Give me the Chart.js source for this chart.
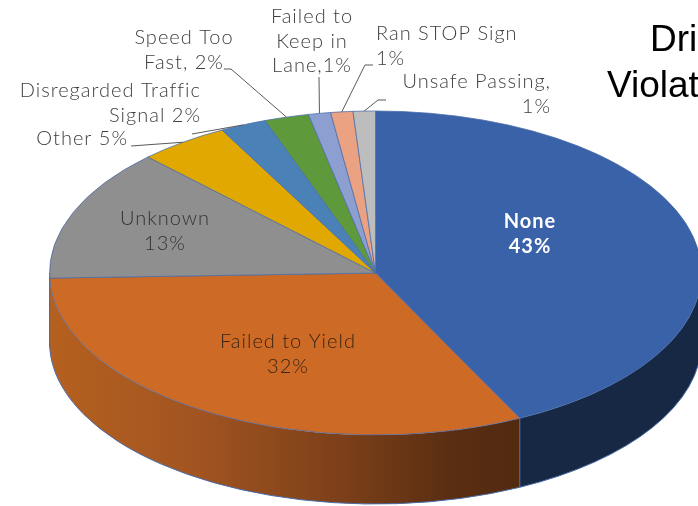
<!DOCTYPE html>
<html>
<head>
<meta charset="utf-8">
<style>html,body{margin:0;padding:0;background:#fff;overflow:hidden}canvas{display:block}</style>
<script src="https://cdn.jsdelivr.net/npm/chart.js@4/dist/chart.umd.min.js"></script>
</head>
<body>
<canvas id="c" width="698" height="506"></canvas>
<script>
const categories = ["None","Failed to Yield","Unknown","Other","Disregarded Traffic Signal","Speed Too Fast","Failed to Keep in Lane","Ran STOP Sign","Unsafe Passing"];
const sliceValues = [42.7,31.8,13.2,4.5,2.3,2.2,1.1,1.1,1.1];
const sliceColors = ["#3A62A8","#CD6A26","#8F8F8F","#E0A800","#4A82B8","#5E9A3C","#8C9FD0","#EAA283","#BDBDBD"];
const titleLines = ["Dri","Violat"];
const labelTexts = [
  ["None","43%"],["Failed to Yield","32%"],["Unknown","13%"],["Other 5%"],
  ["Disregarded Traffic","Signal 2%"],["Speed Too","Fast, 2%"],["Failed to","Keep in","Lane,1%"],
  ["Ran STOP Sign","1%"],["Unsafe Passing,","1%"]
];
// placement of each label: x, y of first line centre, alignment, leader elbow
const labelPlace = [
  {x:530,y:222,a:"center",bold:true,color:"#fff"},
  {x:288,y:342,a:"center",color:"#3a2412"},
  {x:165,y:219,a:"center",color:"#333"},
  {x:128,y:139,a:"right",lead:[[131,146]]},
  {x:201,y:91,a:"right",lead:[[192,134]]},
  {x:184,y:38,a:"center",lead:[[224,69],[231,69]]},
  {x:312,y:17,a:"center",lead:[[319,77]]},
  {x:376,y:34,a:"left",lead:[[373,65],[365,65]]},
  {x:551,y:82,a:"right",lead:[[386,100],[378,100]]}
];
const FLAT = 0.497, DEPTH = 69, LH = 24.2;
const FONT = '"Lato"';

const pie3d = {
  id:"pie3d",
  beforeDatasetsDraw(chart){
    const ctx = chart.ctx, arcs = chart.getDatasetMeta(0).data;
    const cx = arcs[0].x, cy = arcs[0].y, R = arcs[0].outerRadius, Ry = R*FLAT;
    const wallFill = i => {
      if (i === 0) return "#172844";
      if (i !== 1) return "#6a6a6a";
      const g = ctx.createLinearGradient(cx-R,0,520,0);
      g.addColorStop(0,"#B5601F"); g.addColorStop(0.3,"#A35521");
      g.addColorStop(0.6,"#7F411A"); g.addColorStop(0.85,"#5A2E12"); g.addColorStop(1,"#522A10");
      return g;
    };
    arcs.forEach((arc,i)=>{
      let a = arc.startAngle, b = arc.endAngle;
      a = Math.max(a,0); b = Math.min(b,Math.PI);
      if (b <= a) return;
      ctx.beginPath();
      ctx.ellipse(cx,cy,R,Ry,0,a,b,false);
      ctx.ellipse(cx,cy+DEPTH,R,Ry,0,b,a,true);
      ctx.closePath();
      ctx.fillStyle = wallFill(i);
      ctx.fill();
      ctx.strokeStyle = "#4A6CA8"; ctx.lineWidth = 1;
      ctx.beginPath();
      ctx.ellipse(cx,cy+DEPTH,R,Ry,0,a,b,false);
      ctx.stroke();
      ctx.beginPath();
      ctx.moveTo(cx+R*Math.cos(a),cy+Ry*Math.sin(a));
      ctx.lineTo(cx+R*Math.cos(a),cy+DEPTH+Ry*Math.sin(a));
      ctx.stroke();
    });
    ctx.beginPath();
    ctx.moveTo(cx-R,cy);
    ctx.lineTo(cx-R,cy+DEPTH);
    ctx.strokeStyle = "#4A6CA8"; ctx.stroke();
    ctx.save();
    ctx.translate(0,cy); ctx.scale(1,FLAT); ctx.translate(0,-cy);
  },
  afterDatasetsDraw(chart){ chart.ctx.restore(); },
  afterDraw(chart){
    const ctx = chart.ctx, arcs = chart.getDatasetMeta(0).data;
    const cx = arcs[0].x, cy = arcs[0].y, R = arcs[0].outerRadius, Ry = R*FLAT;
    ctx.save();
    ctx.textBaseline = "middle";
    labelPlace.forEach((p,i)=>{
      if (p.lead){
        const m = (arcs[i].startAngle+arcs[i].endAngle)/2;
        ctx.beginPath();
        p.lead.forEach((q,k)=> k ? ctx.lineTo(q[0],q[1]) : ctx.moveTo(q[0],q[1]));
        ctx.lineTo(cx+R*Math.cos(m),cy+Ry*Math.sin(m));
        ctx.strokeStyle = "#595959"; ctx.lineWidth = 1; ctx.stroke();
      }
      ctx.font = (p.bold?"bold ":"300 ")+"20px "+FONT;
      ctx.letterSpacing = "1px";
      ctx.fillStyle = p.color || "#404040";
      ctx.textAlign = p.a;
      labelTexts[i].forEach((t,k)=>ctx.fillText(t,p.x,p.y+k*LH));
    });
    ctx.letterSpacing = "0px";
    ctx.font = '37px "Liberation Sans"';
    ctx.fillStyle = "#000"; ctx.textAlign = "left";
    ctx.fillText(titleLines[0],650,41);
    ctx.fillText(titleLines[1],607,87);
    ctx.restore();
  }
};

new Chart(document.getElementById("c"),{
  type:"pie",
  data:{labels:categories,datasets:[{data:sliceValues,backgroundColor:sliceColors,borderColor:"#4A6CA8",borderWidth:1,clip:false}]},
  options:{
    responsive:false,animation:false,radius:326,
    layout:{padding:{left:53,top:40,right:0,bottom:0}},
    events:[],
    plugins:{legend:{display:false},title:{display:false},tooltip:{enabled:false}}
  },
  plugins:[pie3d]
});
</script>
</body>
</html>
